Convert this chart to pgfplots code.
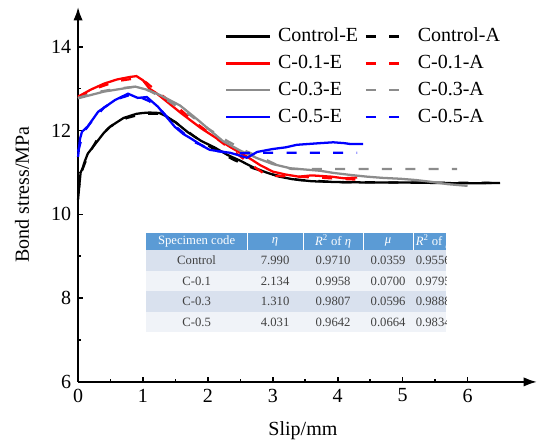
\documentclass[border=0pt]{standalone}
\usepackage{pgfplots}
\pgfplotsset{compat=1.18}
\usetikzlibrary{arrows.meta}
\usepackage{fontspec}
\setmainfont{Liberation Serif}
\definecolor{hdr}{HTML}{5B9BD5}
\definecolor{rowa}{HTML}{D9E1EE}
\definecolor{rowb}{HTML}{F0F3F8}
\definecolor{tabtxt}{HTML}{404040}
\definecolor{grayc}{HTML}{8C8C8C}
\begin{document}
\fontsize{15}{18}\selectfont
\begin{tikzpicture}
\begin{axis}[
 scale only axis, width=344pt, height=281pt,
 xmin=0, xmax=7.07, ymin=6, ymax=14.95,
 axis lines=left,
 axis line style={line width=1.5pt, -{Latex[length=10pt,width=7pt]}},
 tick style={line width=1.2pt, black},
 tick align=inside,
 major tick length=4pt, minor tick length=2.5pt,
 xtick={0,1,2,3,4,5,6}, ytick={6,8,10,12,14},
 minor x tick num=1, minor y tick num=1,
 /pgf/number format/assume math mode=true,
 tick label style={font=\fontsize{15}{18}\selectfont},
 xlabel={Slip/mm}, ylabel={Bond stress/MPa},
 label style={font=\fontsize{15}{18}\selectfont},
 every axis x label/.style={at={(axis description cs:0.49,-0.13)}, anchor=center},
 every axis y label/.style={at={(axis description cs:-0.122,0.5)}, rotate=90, anchor=center},
 clip=false,
 legend columns=2,
 legend cell align=left,
 legend style={at={(axis cs:2.2,14.58)}, anchor=north west, draw=none, fill=none,
   font=\fontsize{15}{18}\selectfont, column sep=3pt, row sep=3.8pt},
 legend image code/.code={\draw[#1] (0pt,0pt) -- (33pt,0pt);},
 every axis plot/.append style={line width=1.7pt},
]
% Control-E
\addplot[black] coordinates {(0,10.35) (0.02,10.7) (0.04,11.0) (0.07,11.1) (0.1,11.25) (0.15,11.45) (0.2,11.55) (0.3,11.75) (0.4,11.95) (0.5,12.1) (0.6,12.2) (0.7,12.3) (0.8,12.35) (0.9,12.4) (1.0,12.42) (1.1,12.43) (1.25,12.42) (1.35,12.35) (1.5,12.2) (1.7,11.95) (1.9,11.75) (2.1,11.6) (2.3,11.42) (2.5,11.28) (2.7,11.12) (2.9,11.0) (3.1,10.9) (3.3,10.84) (3.6,10.79) (4.0,10.77) (4.5,10.76) (5.0,10.76) (5.5,10.75) (6.0,10.74) (6.5,10.75)};
\addlegendentry{Control-E}
% Control-A
\addplot[black, dash pattern=on 7.5pt off 10pt] coordinates {(0,10.5) (0.05,11.0) (0.15,11.4) (0.3,11.8) (0.5,12.1) (0.75,12.3) (1.0,12.4) (1.25,12.4) (1.5,12.2) (1.8,11.85) (2.1,11.55) (2.4,11.3) (2.7,11.1) (3.0,10.95) (3.4,10.82) (4.0,10.77) (5,10.76) (6.5,10.75)};
\addlegendentry{Control-A}
% C-0.1-E
\addplot[red] coordinates {(0,12.81) (0.2,12.98) (0.4,13.12) (0.6,13.22) (0.8,13.28) (0.9,13.3) (1.0,13.2) (1.1,13.0) (1.2,12.9) (1.4,12.65) (1.6,12.4) (1.9,12.05) (2.1,11.85) (2.34,11.61) (2.6,11.38) (2.8,11.18) (3.0,11.02) (3.2,10.95) (3.4,10.9) (3.6,10.93) (3.9,10.9) (4.1,10.86) (4.3,10.88)};
\addlegendentry{C-0.1-E}
% C-0.1-A
\addplot[red, dash pattern=on 7.5pt off 10pt] coordinates {(0,12.78) (0.3,13.02) (0.6,13.18) (0.9,13.25) (1.05,13.15) (1.2,12.95) (1.5,12.6) (1.8,12.2) (2.1,11.85) (2.4,11.5) (2.7,11.15) (2.85,10.99) (3.0,10.92) (3.3,10.9) (3.7,10.88) (4.0,10.85) (4.3,10.83)};
\addlegendentry{C-0.1-A}
% C-0.3-E
\addplot[grayc] coordinates {(0,12.77) (0.2,12.85) (0.4,12.93) (0.6,12.98) (0.88,13.05) (1.05,12.98) (1.26,12.85) (1.57,12.6) (1.85,12.25) (2.0,12.05) (2.23,11.75) (2.5,11.52) (2.76,11.34) (3.0,11.2) (3.27,11.1) (3.5,11.07) (3.73,11.04) (3.93,10.99) (4.2,10.94) (4.45,10.9) (4.7,10.87) (4.96,10.85) (5.2,10.82) (5.42,10.78) (5.7,10.72) (6.0,10.68)};
\addlegendentry{C-0.3-E}
% C-0.3-A
\addplot[grayc, dash pattern=on 7.5pt off 10pt] coordinates {(0,12.78) (0.3,12.92) (0.6,13.0) (0.9,13.05) (1.1,12.95) (1.4,12.7) (1.7,12.4) (2.0,12.05) (2.3,11.75) (2.6,11.5) (2.9,11.3) (3.1,11.15) (3.3,11.08) (5.84,11.08)};
\addlegendentry{C-0.3-A}
% C-0.5-E
\addplot[blue] coordinates {(0,11.37) (0.03,11.8) (0.06,11.97) (0.15,12.1) (0.31,12.45) (0.45,12.6) (0.57,12.73) (0.77,12.88) (0.92,12.78) (1.06,12.8) (1.23,12.57) (1.35,12.35) (1.49,12.09) (1.62,11.92) (1.75,11.8) (1.93,11.62) (2.03,11.54) (2.2,11.5) (2.34,11.47) (2.5,11.4) (2.6,11.35) (2.76,11.49) (3.0,11.56) (3.2,11.6) (3.37,11.66) (3.55,11.68) (3.73,11.7) (3.93,11.72) (4.1,11.7) (4.19,11.68) (4.39,11.68)};
\addlegendentry{C-0.5-E}
% C-0.5-A
\addplot[blue, dash pattern=on 7.5pt off 10pt] coordinates {(0,11.5) (0.08,11.95) (0.2,12.2) (0.4,12.55) (0.6,12.75) (0.8,12.85) (0.95,12.8) (1.1,12.7) (1.3,12.45) (1.5,12.1) (1.8,11.72) (2.1,11.52) (2.4,11.45) (2.7,11.47) (4.3,11.47)};
\addlegendentry{C-0.5-A}

% inset table
\fill[hdr] (axis cs:1.048,9.146) rectangle (axis cs:5.670,9.553);
\fill[rowa] (axis cs:1.048,8.656) rectangle (axis cs:5.670,9.146);
\fill[rowb] (axis cs:1.048,8.165) rectangle (axis cs:5.670,8.656);
\fill[rowa] (axis cs:1.048,7.675) rectangle (axis cs:5.670,8.165);
\fill[rowb] (axis cs:1.048,7.184) rectangle (axis cs:5.670,7.675);
\draw[white, line width=0.8pt] (axis cs:2.604,9.146) -- (axis cs:2.604,9.553);
\draw[white, line width=0.8pt] (axis cs:3.467,9.146) -- (axis cs:3.467,9.553);
\draw[white, line width=0.8pt] (axis cs:4.391,9.146) -- (axis cs:4.391,9.553);
\draw[white, line width=0.8pt] (axis cs:5.162,9.146) -- (axis cs:5.162,9.553);
\begin{scope}
\clip (axis cs:1.048,7.184) rectangle (axis cs:5.670,9.553);
\begin{scope}[every node/.style={font=\fontsize{9.5}{11}\selectfont, text=tabtxt, inner sep=0pt}]
\node[text=white] at (axis cs:1.826,9.35) {Specimen code};
\node[text=white] at (axis cs:3.036,9.35) {\textit{η}};
\node[text=white] at (axis cs:3.929,9.35) {\textit{R}\textsuperscript{2} of \textit{η}};
\node[text=white] at (axis cs:4.777,9.35) {\textit{μ}};
\node[text=white, anchor=west] at (axis cs:5.20,9.35) {\textit{R}\textsuperscript{2} of \textit{μ}};
\node at (axis cs:1.826,8.90) {Control};
\node at (axis cs:3.036,8.90) {7.990};
\node at (axis cs:3.929,8.90) {0.9710};
\node at (axis cs:4.777,8.90) {0.0359};
\node[anchor=west] at (axis cs:5.20,8.90) {0.9556};
\node at (axis cs:1.826,8.41) {C-0.1};
\node at (axis cs:3.036,8.41) {2.134};
\node at (axis cs:3.929,8.41) {0.9958};
\node at (axis cs:4.777,8.41) {0.0700};
\node[anchor=west] at (axis cs:5.20,8.41) {0.9795};
\node at (axis cs:1.826,7.92) {C-0.3};
\node at (axis cs:3.036,7.92) {1.310};
\node at (axis cs:3.929,7.92) {0.9807};
\node at (axis cs:4.777,7.92) {0.0596};
\node[anchor=west] at (axis cs:5.20,7.92) {0.9888};
\node at (axis cs:1.826,7.43) {C-0.5};
\node at (axis cs:3.036,7.43) {4.031};
\node at (axis cs:3.929,7.43) {0.9642};
\node at (axis cs:4.777,7.43) {0.0664};
\node[anchor=west] at (axis cs:5.20,7.43) {0.9834};
\end{scope}
\end{scope}
\end{axis}
\pgfresetboundingbox
\path ([xshift=-58.5pt,yshift=-46.9pt]current axis.south west) rectangle ([xshift=2.25pt,yshift=5.25pt]current axis.north east);
\end{tikzpicture}
\end{document}
